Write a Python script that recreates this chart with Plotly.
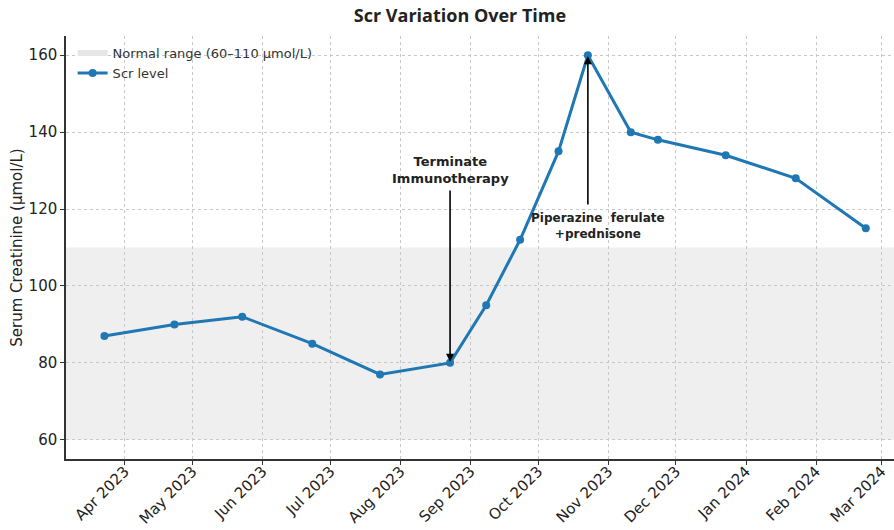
import plotly.graph_objects as go

dates = ["2023-03-23", "2023-04-23", "2023-05-23", "2023-06-23", "2023-07-23",
         "2023-08-23", "2023-09-08", "2023-09-23", "2023-10-10", "2023-10-23",
         "2023-11-11", "2023-11-23", "2023-12-23", "2024-01-23", "2024-02-23"]
scr = [87, 90, 92, 85, 77, 80, 95, 112, 135, 160, 140, 138, 134, 128, 115]

tick_vals = ["2023-04-01", "2023-05-01", "2023-06-01", "2023-07-01", "2023-08-01",
             "2023-09-01", "2023-10-01", "2023-11-01", "2023-12-01", "2024-01-01",
             "2024-02-01", "2024-03-01"]
tick_text = ["Apr 2023", "May 2023", "Jun 2023", "Jul 2023", "Aug 2023", "Sep 2023",
             "Oct 2023", "Nov 2023", "Dec 2023", "Jan 2024", "Feb 2024", "Mar 2024"]

normal_low, normal_high = 60, 110
normal_label = "Normal range (60–110 μmol/L)"

# arrow: from (date, tail_y) to (date, value); text centred at (text_date, text_y)
events = [
    {"date": "2023-08-23", "value": 80, "tail_y": 125.2,
     "text": "<b>Terminate<br>Immunotherapy</b>", "text_date": "2023-08-23", "text_y": 130.1,
     "size": 13},
    {"date": "2023-10-23", "value": 160, "tail_y": 120.8,
     "text": "<b>Piperazine  ferulate<br>+prednisone</b>", "text_date": "2023-10-27 10:00",
     "text_y": 115.7, "size": 12},
]

BLUE = "#1f77b4"
BAND = "#efefef"
fig = go.Figure()

fig.add_shape(type="rect", xref="paper", yref="y", x0=0, x1=1,
              y0=normal_low, y1=normal_high, fillcolor=BAND,
              line=dict(width=0), layer="below")

# legend entry for the band
fig.add_trace(go.Scatter(x=[None], y=[None], mode="none", fill="toself",
                         fillcolor="#e6e6e6", name=normal_label, legendrank=1))

fig.add_trace(go.Scatter(x=dates, y=scr, mode="lines+markers", name="Scr level",
                         line=dict(color=BLUE, width=3),
                         marker=dict(color=BLUE, size=8), legendrank=2))

for ev in events:
    fig.add_annotation(x=ev["date"], y=ev["value"], ax=ev["date"], ay=ev["tail_y"],
                       xref="x", yref="y", axref="x", ayref="y",
                       text="", showarrow=True, arrowhead=2, arrowsize=1,
                       arrowwidth=1.6, arrowcolor="black", standoff=1)
    fig.add_annotation(x=ev["text_date"], y=ev["text_y"], xref="x", yref="y",
                       text=ev["text"], showarrow=False, xanchor="center", yanchor="middle",
                       font=dict(family="DejaVu Sans", size=ev["size"], color="#222"),
                       align="center")

grid = dict(showgrid=True, gridcolor="#c8c8c8", griddash="dot", gridwidth=1)

fig.update_layout(
    width=894, height=530,
    margin=dict(l=66, r=0, t=36, b=71, autoexpand=False),
    paper_bgcolor="white", plot_bgcolor="white",
    title=dict(text="<b>Scr Variation Over Time</b>", x=460/894, xanchor="center",
               y=1 - 16/530, yanchor="middle", automargin=False,
               font=dict(family="Open Sans", size=18, color="#222")),
    font=dict(family="DejaVu Sans", color="#222"),
    legend=dict(x=0.008, y=0.995, xanchor="left", yanchor="top", itemwidth=30,
                bgcolor="rgba(0,0,0,0)", font=dict(size=13, color="#333"),
                tracegroupgap=2),
    xaxis=dict(type="date", range=["2023-03-06", "2024-03-06 12:00"],
               tickvals=tick_vals, ticktext=tick_text, tickangle=-45,
               ticks="outside", ticklen=4, tickcolor="#333", automargin=False,
               ticklabelstandoff=-8,
               tickfont=dict(size=15, color="#222"),
               showline=True, linecolor="#333", linewidth=1.5, zeroline=False,
               **grid),
    yaxis=dict(range=[55, 165], tickvals=[60, 80, 100, 120, 140, 160],
               ticks="outside", ticklen=4, tickcolor="#333", automargin=False,
               tickfont=dict(size=15, color="#222"),
               title=dict(text="Serum Creatinine (μmol/L)", font=dict(size=15, color="#222"),
                          standoff=2),
               showline=True, linecolor="#333", linewidth=1.5, zeroline=False,
               **grid),
)

fig.write_html("out.html", config={"displayModeBar": False},
               post_script="document.body.style.margin='0px';")
